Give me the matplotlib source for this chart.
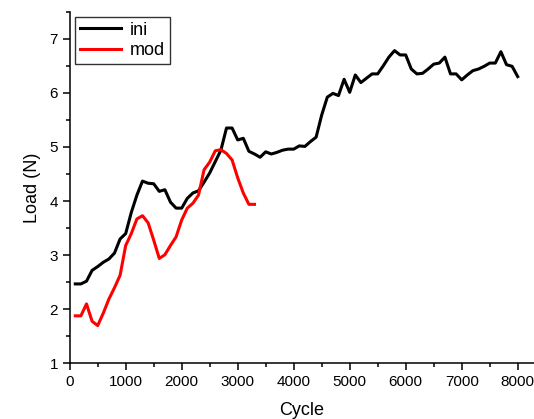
import matplotlib
matplotlib.use("Agg")
import matplotlib.pyplot as plt
from matplotlib.ticker import MultipleLocator

plt.rcParams['font.family'] = ['Liberation Sans', 'DejaVu Sans']

ini_cycle = list(range(100, 8001, 100))
ini_load = [2.47, 2.47, 2.52, 2.72, 2.79, 2.87, 2.93, 3.04, 3.30, 3.40,
            3.79, 4.11, 4.37, 4.33, 4.32, 4.18, 4.21, 3.98, 3.87, 3.87,
            4.05, 4.15, 4.19, 4.35, 4.52, 4.73, 4.94, 5.35, 5.35, 5.13,
            5.16, 4.92, 4.87, 4.81, 4.91, 4.87, 4.90, 4.94, 4.96, 4.96,
            5.02, 5.01, 5.10, 5.18, 5.59, 5.92, 5.99, 5.95, 6.25, 6.01,
            6.33, 6.19, 6.27, 6.35, 6.35, 6.50, 6.66, 6.78, 6.70, 6.70,
            6.44, 6.35, 6.36, 6.44, 6.53, 6.55, 6.66, 6.35, 6.35, 6.24,
            6.33, 6.41, 6.44, 6.49, 6.55, 6.55, 6.76, 6.52, 6.49, 6.30]

mod_cycle = list(range(100, 3301, 100))
mod_load = [1.88, 1.88, 2.10, 1.78, 1.70, 1.93, 2.19, 2.40, 2.63, 3.18,
            3.40, 3.67, 3.73, 3.60, 3.28, 2.94, 3.01, 3.18, 3.34, 3.65,
            3.87, 3.96, 4.11, 4.58, 4.72, 4.93, 4.95, 4.88, 4.76, 4.43,
            4.15, 3.94, 3.94]

x_ticks = [0, 1000, 2000, 3000, 4000, 5000, 6000, 7000, 8000]
y_ticks = [1, 2, 3, 4, 5, 6, 7]

fig = plt.figure(figsize=(5.34, 4.19), dpi=100)
ax = fig.add_axes([0.1305, 0.1325, 0.8695, 0.8397])

ax.plot(ini_cycle, ini_load, color='black', lw=2.2, label='ini')
ax.plot(mod_cycle, mod_load, color='#ff0000', lw=2.2, label='mod')

ax.set_xlim(0, 8291)
ax.set_ylim(1, 7.5)
ax.set_xticks(x_ticks)
ax.set_yticks(y_ticks)
ax.xaxis.set_minor_locator(MultipleLocator(500))
ax.yaxis.set_minor_locator(MultipleLocator(0.5))

for s in ['top', 'right']:
    ax.spines[s].set_visible(False)
for s in ['left', 'bottom']:
    ax.spines[s].set_linewidth(1.1)

ax.tick_params(which='major', direction='out', length=5, width=1.1, labelsize=11)
ax.tick_params(which='minor', direction='out', length=3, width=1.1)

ax.set_xlabel('Cycle', fontsize=13, labelpad=9)
ax.set_ylabel('Load (N)', fontsize=13, labelpad=6)

leg = ax.legend(loc='upper left', bbox_to_anchor=(0.0, 1.0), fontsize=13,
                frameon=True, fancybox=False, edgecolor='black',
                handlelength=2.3, handletextpad=0.5, borderpad=0.25,
                labelspacing=0.2, borderaxespad=0.3)
leg.get_frame().set_linewidth(1.0)

fig.savefig('out.png', dpi=100)
